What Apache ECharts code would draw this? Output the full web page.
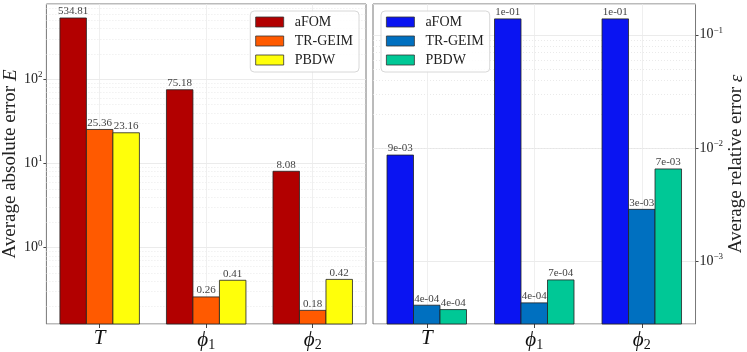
<!DOCTYPE html>
<html>
<head>
<meta charset="utf-8">
<script src="https://cdn.jsdelivr.net/npm/echarts@6/dist/echarts.min.js"></script>
<style>html,body{margin:0;padding:0;background:#fff}#c{width:747px;height:352px}</style>
</head>
<body>
<div id="c"></div>
<script>
var categories = ['T', 'phi1', 'phi2'];
var seriesNames = ['aFOM', 'TR-GEIM', 'PBDW'];
var absAFOM = [534.81, 75.18, 8.08];
var absTRGEIM = [25.36, 0.26, 0.18];
var absPBDW = [23.16, 0.41, 0.42];
var relAFOM = [0.0087, 0.138, 0.138];
var relTRGEIM = [0.000413, 0.000433, 0.00289];
var relPBDW = [0.000378, 0.00069, 0.00656];
var leftColors = ['#b20000', '#ff5a00', '#ffff0a'];
var rightColors = ['#0a14f2', '#0070c0', '#00c896'];
var leftRange = [0.124, 784];
var rightRange = [0.000282, 0.1867];

var SERIF = 'Liberation Serif, DejaVu Serif, serif';
var BAR_W = 26.5;

function minorValues(lo, hi) {
  var out = [];
  for (var e = Math.floor(Math.log10(lo)); e <= Math.ceil(Math.log10(hi)); e++) {
    for (var k = 2; k <= 9; k++) {
      var v = k * Math.pow(10, e);
      if (v > lo && v < hi) out.push({ yAxis: v });
    }
  }
  return out;
}
function expLabel(v) {
  var e = Math.round(Math.log10(v));
  var s = e < 0 ? '\u2212' + (-e) : '' + e;
  return '{b|10}{sup|' + s + '}';
}
var catRich = {
  i: { fontFamily: SERIF, fontStyle: 'italic', fontSize: 21, color: '#111' },
  s: { fontFamily: SERIF, fontSize: 14, color: '#111', padding: [10, 0, 0, 0] }
};
function catLabel(v) {
  if (v === 'T') return '{i|T}';
  if (v === 'phi1') return '{i|\u03d5}{s|1}';
  return '{i|\u03d5}{s|2}';
}
var tickRich = {
  b: { fontFamily: SERIF, fontSize: 14, color: '#222' },
  sup: { fontFamily: SERIF, fontSize: 9, color: '#222', padding: [0, 0, 9, 0] }
};
function fmtLeft(v) { return v.toFixed(2); }
function fmtRight(v) {
  var s = v.toExponential(0);
  var m = s.split('e');
  var e = parseInt(m[1], 10);
  var es = (e < 0 ? '-' : '+') + (Math.abs(e) < 10 ? '0' : '') + Math.abs(e);
  return m[0] + 'e' + es;
}

function barSeries(name, values, color, idx, fmt, slot) {
  return {
    type: 'custom', name: name,
    xAxisIndex: idx, yAxisIndex: idx,
    data: values.map(function (v, i) { return [categories[i], v]; }),
    encode: { x: 0, y: 1 },
    itemStyle: { color: color, borderColor: '#222', borderWidth: 0.8 },
    z: 3,
    renderItem: function (params, api) {
      var val = api.value(1);
      var top = api.coord([api.value(0), val]);
      var cs = params.coordSys;
      var bottomY = cs.y + cs.height;
      var cx = top[0] + (slot - 1) * BAR_W;
      return {
        type: 'group',
        children: [
          { type: 'rect',
            shape: { x: cx - BAR_W / 2, y: top[1], width: BAR_W, height: bottomY - top[1] },
            style: { fill: color, stroke: '#222', lineWidth: 0.8 } },
          { type: 'text',
            style: { x: cx, y: top[1] - 1, text: fmt(val), align: 'center', verticalAlign: 'bottom',
              fontFamily: SERIF, fontSize: 11, fill: '#444' } }
        ]
      };
    }
  };
}
function gridSeries(idx, lo, hi) {
  return {
    type: 'line', name: 'grid' + idx, data: [], xAxisIndex: idx, yAxisIndex: idx,
    silent: true,
    markLine: {
      silent: true, symbol: 'none', z: 1, label: { show: false },
      lineStyle: { color: '#e4e4e4', type: [1, 2], width: 0.8 },
      emphasis: { disabled: true },
      data: minorValues(lo, hi)
    }
  };
}
function vGridSeries(idx) {
  return {
    type: 'line', name: 'vgrid' + idx, data: [], xAxisIndex: idx, yAxisIndex: idx,
    silent: true,
    markLine: {
      silent: true, symbol: 'none', z: 1, label: { show: false },
      lineStyle: { color: '#ebebeb', type: 'solid', width: 0.8 },
      emphasis: { disabled: true },
      data: categories.map(function (c) { return { xAxis: c }; })
    }
  };
}
function xAxisDef(idx) {
  return {
    type: 'category', gridIndex: idx, data: categories,
    axisLine: { show: false },
    axisTick: { show: true, alignWithLabel: true, length: 4, lineStyle: { color: '#444' } },
    axisLabel: { formatter: catLabel, rich: catRich, margin: 4 },
    splitLine: { show: false }
  };
}
function yAxisDef(idx, range, pos, name, nameGap) {
  return {
    type: 'log', logBase: 10, gridIndex: idx, position: pos,
    min: range[0], max: range[1],
    axisLine: { show: false },
    axisTick: { show: true, length: 3, inside: false, lineStyle: { color: '#444' } },
    axisLabel: { formatter: expLabel, rich: tickRich, showMinLabel: false, showMaxLabel: false, margin: 4 },
    splitLine: { show: true, lineStyle: { color: '#e6e6e6', width: 0.8 } },
    name: name, nameLocation: 'middle', nameGap: nameGap, nameRotate: 90,
    nameTextStyle: { fontFamily: SERIF, fontSize: 19, color: '#222',
      rich: { n: { fontFamily: SERIF, fontSize: 19, color: '#222' },
              i: { fontFamily: SERIF, fontSize: 19, fontStyle: 'italic', color: '#222' } } }
  };
}
function legendDef(pos, names) {
  var l = {
    orient: 'vertical', top: 11,
    data: names.map(function (n) { return { name: n, icon: 'rect' }; }),
    formatter: function (n) { return n.trim(); },
    itemWidth: 28, itemHeight: 10, itemGap: 3,
    itemStyle: { borderColor: '#333', borderWidth: 0.8 },
    backgroundColor: 'rgba(255,255,255,0.85)', borderColor: '#d8d8d8', borderWidth: 1, borderRadius: 4,
    padding: [3, 6, 4, 5],
    textStyle: { fontFamily: SERIF, fontSize: 14, color: '#222', padding: [0, 0, 0, 6], lineHeight: 16 },
    selectedMode: false
  };
  for (var k in pos) l[k] = pos[k];
  return l;
}

var rightNames = seriesNames.map(function (n) { return n + ' '; });

var option = {
  animation: false,
  backgroundColor: '#fff',
  grid: [
    { left: 43, top: 4, width: 323, height: 323, show: true, borderColor: '#777', borderWidth: 1, backgroundColor: 'transparent' },
    { left: 373, top: 4, width: 323, height: 323, show: true, borderColor: '#777', borderWidth: 1, backgroundColor: 'transparent' }
  ],
  legend: [
    legendDef({ right: 388 }, seriesNames),
    legendDef({ left: 381 }, rightNames)
  ],
  xAxis: [xAxisDef(0), xAxisDef(1)],
  yAxis: [
    yAxisDef(0, leftRange, 'left', '{n|Average absolute error }{i|E}', 26),
    yAxisDef(1, rightRange, 'right', '{n|Average relative error }{i|\u03b5}', 30)
  ],
  series: [
    gridSeries(0, leftRange[0], leftRange[1]),
    vGridSeries(0),
    barSeries(seriesNames[0], absAFOM, leftColors[0], 0, fmtLeft, 0),
    barSeries(seriesNames[1], absTRGEIM, leftColors[1], 0, fmtLeft, 1),
    barSeries(seriesNames[2], absPBDW, leftColors[2], 0, fmtLeft, 2),
    gridSeries(1, rightRange[0], rightRange[1]),
    vGridSeries(1),
    barSeries(rightNames[0], relAFOM, rightColors[0], 1, fmtRight, 0),
    barSeries(rightNames[1], relTRGEIM, rightColors[1], 1, fmtRight, 1),
    barSeries(rightNames[2], relPBDW, rightColors[2], 1, fmtRight, 2)
  ]
};
var chart = echarts.init(document.getElementById('c'), null, { renderer: 'canvas' });
chart.setOption(option);
</script>
</body>
</html>
